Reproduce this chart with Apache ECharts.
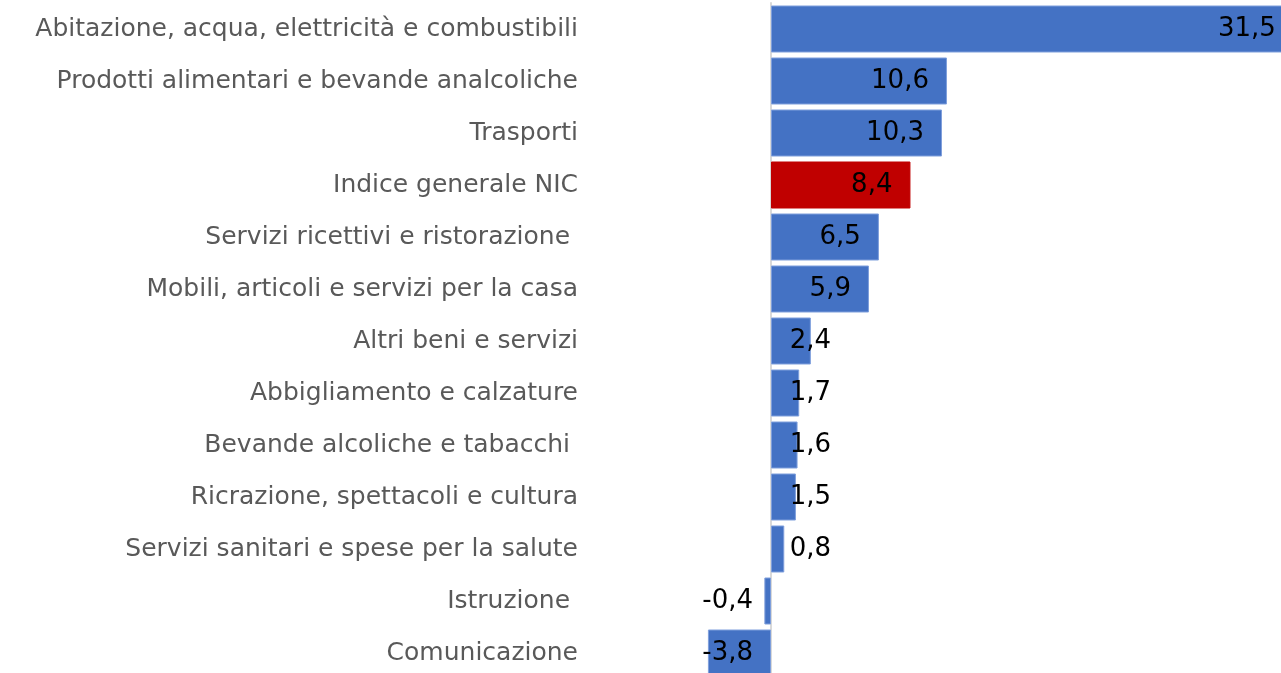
<!DOCTYPE html>
<html>
<head>
<meta charset="utf-8">
<script src="https://cdn.jsdelivr.net/npm/echarts@6/dist/echarts.min.js"></script>
<style>
    html, body { margin: 0; padding: 0; background: #fff; }
    #bars { width: 1281px; height: 673px; }
</style>
</head>
<body>
<div id="bars"></div>
<script>
const categories = [
    'Abitazione, acqua, elettricità e combustibili',
    'Prodotti alimentari e bevande analcoliche',
    'Trasporti',
    'Indice generale NIC',
    'Servizi ricettivi e ristorazione ',
    'Mobili, articoli e servizi per la casa',
    'Altri beni e servizi',
    'Abbigliamento e calzature',
    'Bevande alcoliche e tabacchi ',
    'Ricrazione, spettacoli e cultura',
    'Servizi sanitari e spese per la salute',
    'Istruzione ',
    'Comunicazione'
];
const values = [31.5, 10.6, 10.3, 8.4, 6.5, 5.9, 2.4, 1.7, 1.6, 1.5, 0.8, -0.4, -3.8];
const highlight = 'Indice generale NIC';

const font = 'DejaVu Sans';

function drawBars() {
    let my_chart = echarts.init(document.getElementById('bars'));

    let display_data = values.map(function (v, i) {
        let item = { value: v };
        if (categories[i] === highlight) {
            item.itemStyle = { color: '#C00000', borderColor: '#C00000' };
        }
        // short positive bars: label sits just past the bar, right-aligned at a fixed spot
        if (v > 0 && v < 5) {
            item.label = { position: [60, '50%'], align: 'right', verticalAlign: 'middle' };
        }
        return item;
    });

    let option = {
        animation: false,
        grid: {
            left: 704.6,
            width: 597.6,
            top: 3,
            height: 676,
            outerBoundsMode: 'none'
        },
        xAxis: {
            type: 'value',
            min: -4,
            max: 32,
            show: false
        },
        yAxis: {
            type: 'category',
            inverse: true,
            data: categories,
            axisLine: {
                onZero: true,
                lineStyle: { color: '#d9d9d9', width: 2 }
            },
            axisTick: { show: false },
            axisLabel: {
                margin: 126.6,
                color: '#595959',
                fontFamily: font,
                fontSize: 25
            }
        },
        series: [
            {
                type: 'bar',
                barWidth: 47,
                data: display_data,
                itemStyle: {
                    color: '#4472C4',
                    borderColor: '#7f9fdc',
                    borderWidth: 1
                },
                label: {
                    show: true,
                    position: 'insideRight',
                    distance: 18,
                    color: '#000',
                    fontFamily: font,
                    fontSize: 26,
                    formatter: function (p) {
                        return p.value.toFixed(1).replace('.', ',');
                    }
                }
            }
        ]
    };

    my_chart.setOption(option);
}

drawBars();
</script>
</body>
</html>
